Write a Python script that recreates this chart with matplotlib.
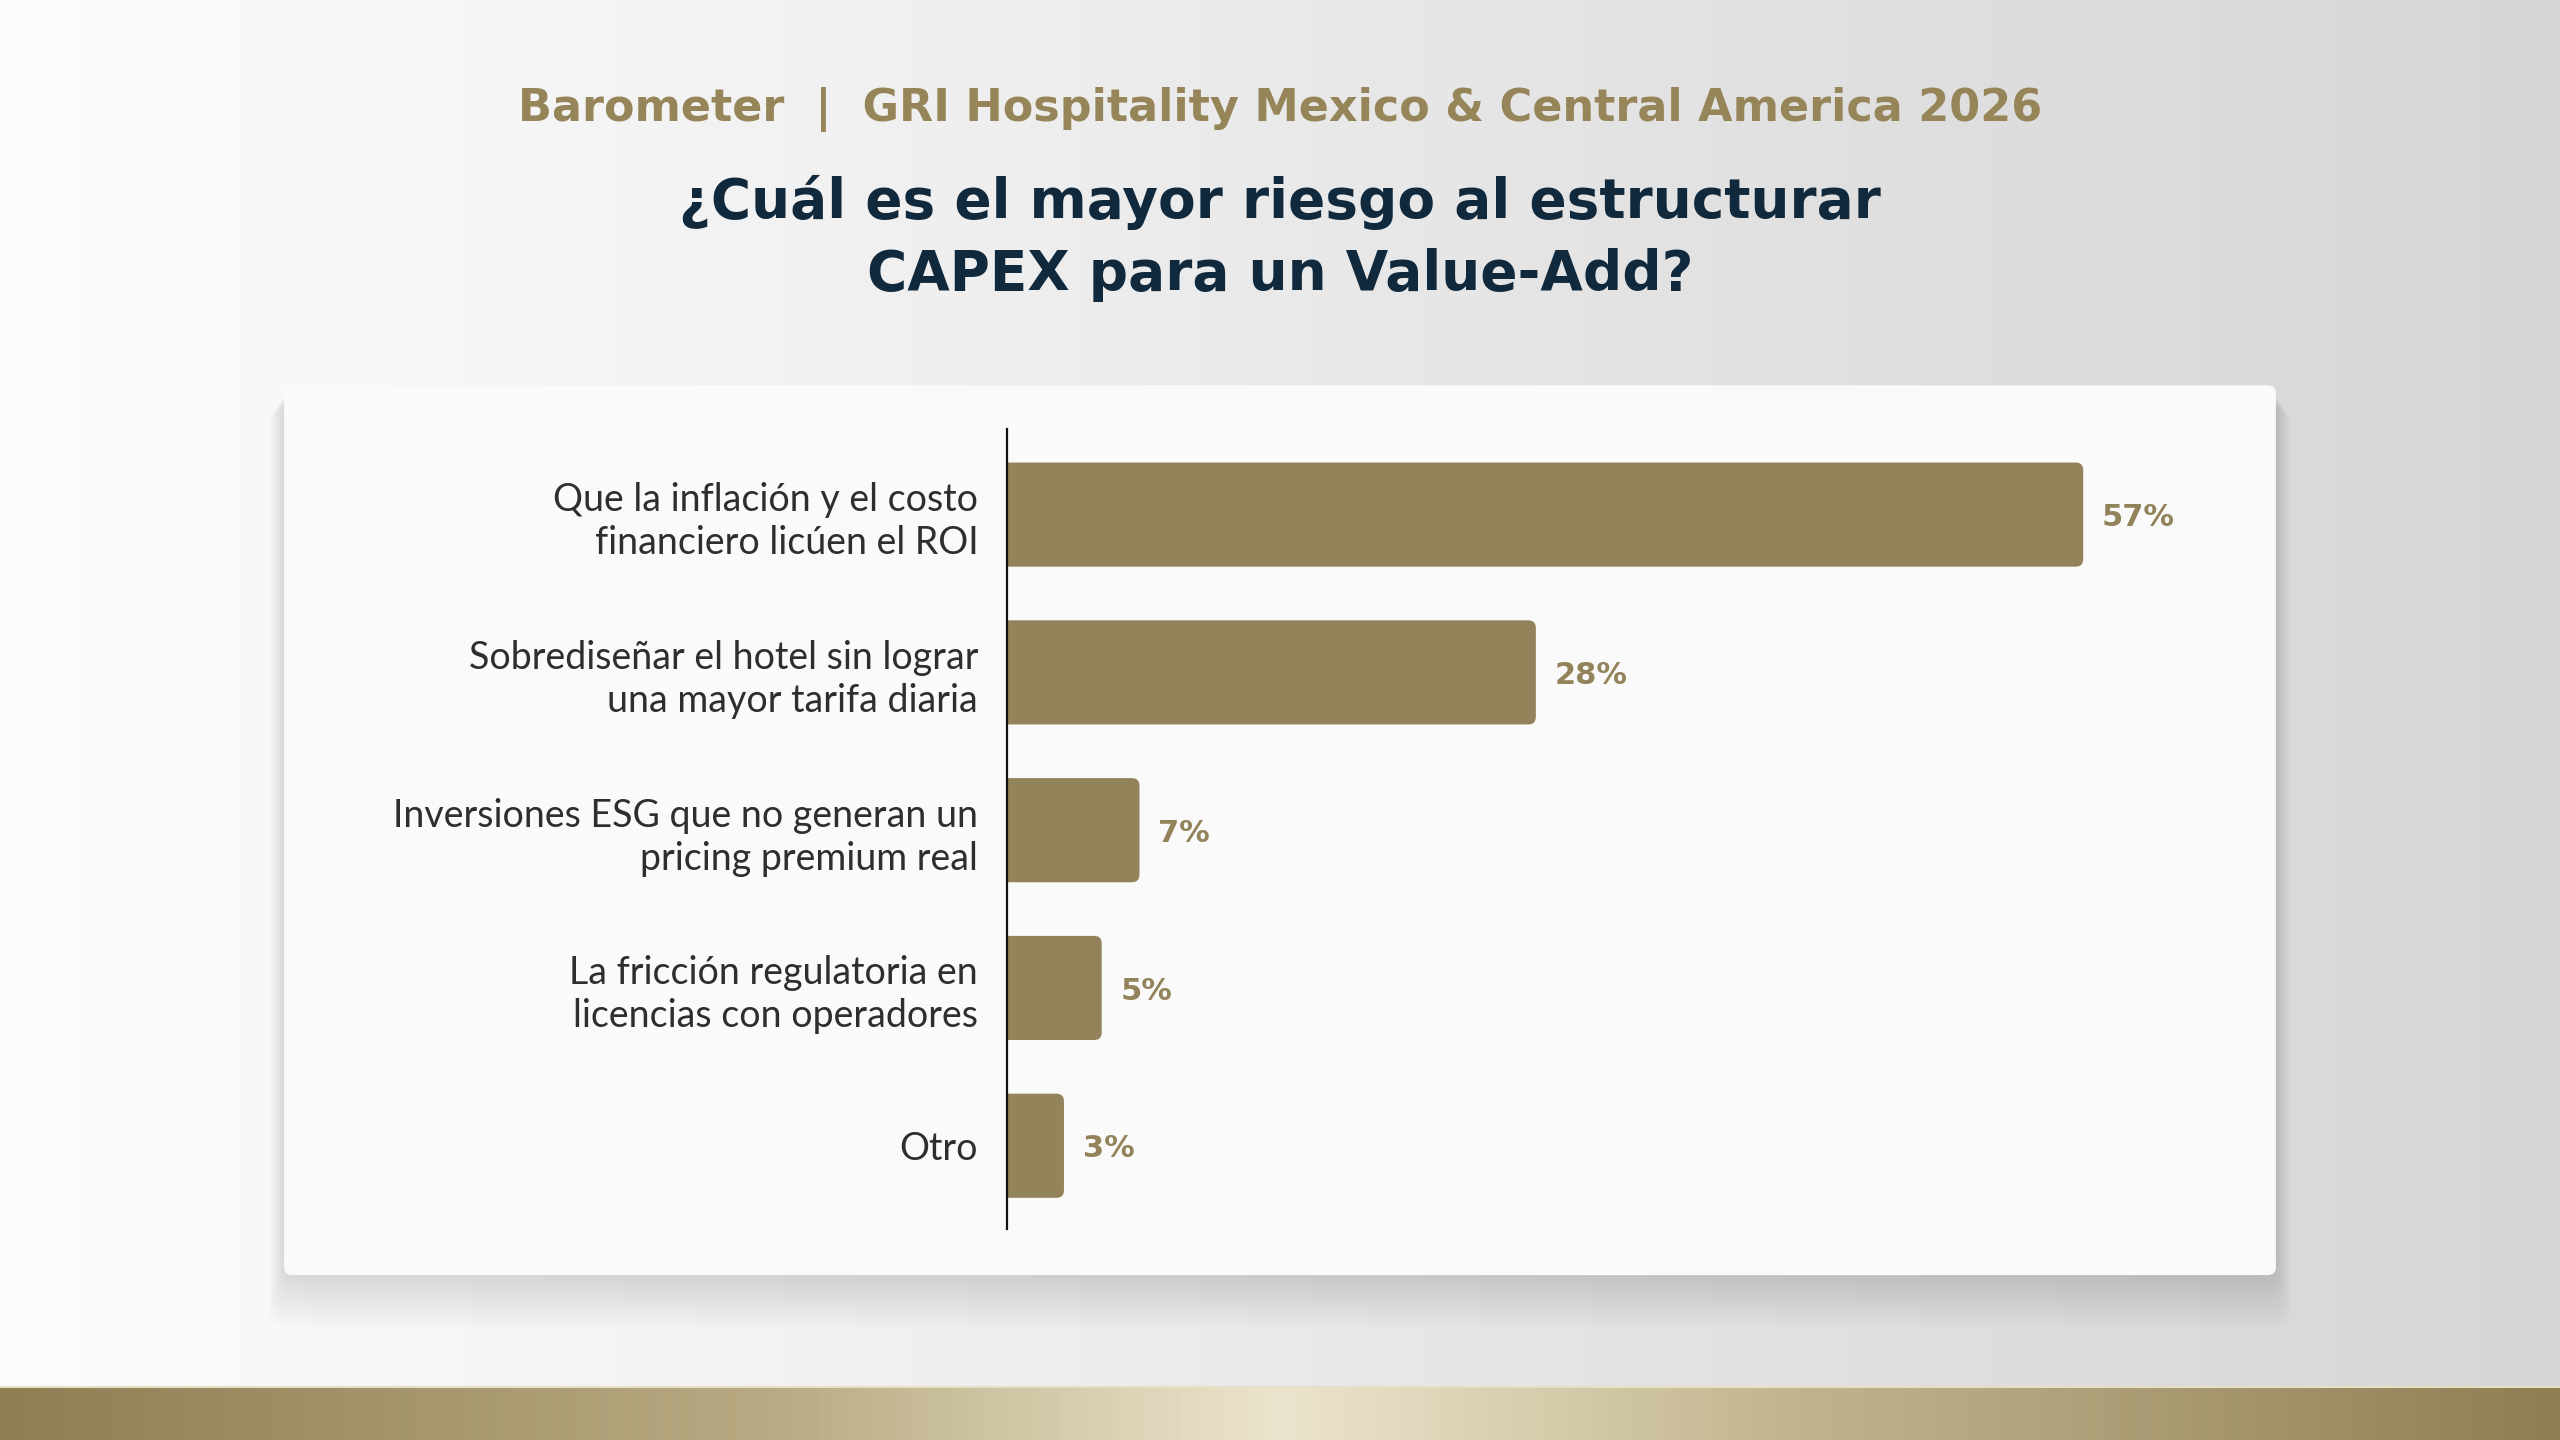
import numpy as np
import matplotlib
matplotlib.use("Agg")
import matplotlib.pyplot as plt
from matplotlib.patches import FancyBboxPatch
from matplotlib.colors import LinearSegmentedColormap

# datos
categorias = [
    "Que la inflación y el costo\nfinanciero licúen el ROI",
    "Sobrediseñar el hotel sin lograr\nuna mayor tarifa diaria",
    "Inversiones ESG que no generan un\npricing premium real",
    "La fricción regulatoria en\nlicencias con operadores",
    "Otro",
]
valores = [57, 28, 7, 5, 3]
etiquetas = ["57%", "28%", "7%", "5%", "3%"]

encabezado = "Barometer  |  GRI Hospitality Mexico & Central America 2026"
titulo = "¿Cuál es el mayor riesgo al estructurar\nCAPEX para un Value-Add?"

DORADO = "#93835a"
AZUL = "#10293d"
GRIS_TXT = "#2e2e2e"

W, H = 1568, 882  # coordenadas de referencia

fig = plt.figure(figsize=(25.6, 14.4), dpi=100)

# fondo con degradado
bg = fig.add_axes([0, 0, 1, 1], zorder=0)
bg.axis("off")
cmap_bg = LinearSegmentedColormap.from_list("bg", ["#fcfcfc", "#f1f1f1", "#e2e2e2", "#d6d6d6"])
bg.imshow(np.linspace(0, 1, 512)[None, :], cmap=cmap_bg, extent=[0, W, H, 0], aspect="auto")

# banda dorada inferior
cmap_oro = LinearSegmentedColormap.from_list(
    "oro", [(0, "#8e7e54"), (0.3, "#b8aa82"), (0.5, "#ebe5cd"), (0.7, "#c2b58e"), (1, "#8e7e54")])
bg.imshow(np.linspace(0, 1, 512)[None, :], cmap=cmap_oro, extent=[0, W, H, 849], aspect="auto")
bg.plot([0, W], [849.3, 849.3], color="#e6dfc6", lw=1.5)

# sombra (sobre todo hacia abajo) y tarjeta
cx0, cy0, cx1, cy1 = 174, 236, 1394, 781
for i in range(16):
    d = 1 + i * 2.0
    bg.add_patch(FancyBboxPatch((cx0 - d * 0.3, cy0 + d * 0.45), (cx1 - cx0) + d * 0.6, (cy1 - cy0) + d * 0.6,
                                boxstyle="round,pad=0,rounding_size=12", fc="#000000", ec="none", alpha=0.008))
bg.add_patch(FancyBboxPatch((cx0, cy0), cx1 - cx0, cy1 - cy0,
                            boxstyle="round,pad=0,rounding_size=5", fc="#fafafa", ec="none"))
bg.set_xlim(0, W)
bg.set_ylim(H, 0)

# textos
fig.text(0.5, 1 - 67 / H, encabezado, ha="center", va="center", color="#968558",
         fontsize=32, fontweight="bold", family="DejaVu Sans")
fig.text(0.5, 1 - 146 / H, titulo, ha="center", va="center", color=AZUL,
         fontsize=39.5, fontweight="bold", family="DejaVu Sans", linespacing=1.44)

# grafico de barras
ax = fig.add_axes([617 / W, 1 - 753 / H, 763 / W, (753 - 263) / H], zorder=2)
ax.patch.set_alpha(0)
y = np.arange(len(categorias))
barras = ax.barh(y, valores, height=0.66, color=DORADO)
ax.set_xlim(0, 66)
ax.set_ylim(4.53, -0.54)

# esquinas redondeadas
for b in barras:
    b.set_visible(False)
    x0, y0 = b.get_x(), b.get_y()
    w, h = b.get_width(), b.get_height()
    ax.add_patch(FancyBboxPatch((x0 - 0.5, y0), w + 0.5, h,
                                boxstyle="round,pad=0,rounding_size=0.4", mutation_aspect=0.118,
                                fc=DORADO, ec="none", clip_on=True))

for yi, v, t in zip(y, valores, etiquetas):
    ax.text(v + 1.0, yi + 0.02, t, ha="left", va="center", color=DORADO,
            fontsize=22, fontweight="bold", family="DejaVu Sans")

ax.set_yticks(y)
ax.set_yticklabels(categorias, fontsize=27, color=GRIS_TXT, family="Lato", fontweight="normal",
                   linespacing=1.24)
ax.tick_params(axis="y", length=0, pad=21)
ax.set_xticks([])
for s in ["top", "right", "bottom"]:
    ax.spines[s].set_visible(False)
ax.spines["left"].set_linewidth(1.6)
ax.spines["left"].set_color("#111111")

fig.savefig("out.png", dpi=100)
